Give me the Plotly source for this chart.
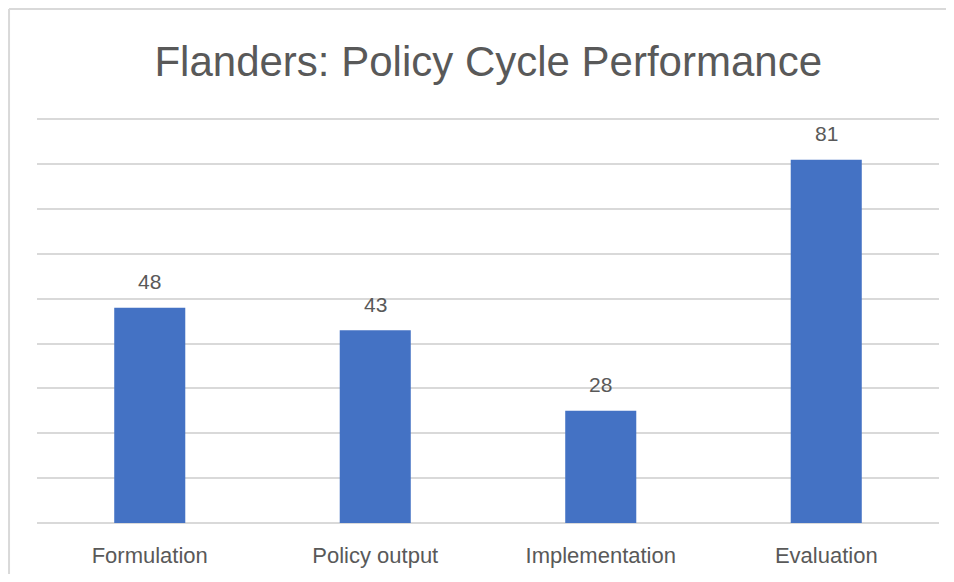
import plotly.graph_objects as go

# ─── Data ────────────────────────────────────────────────────────────────────
categories = ["Formulation", "Policy output", "Implementation", "Evaluation"]
bar_values = [48, 43, 25, 81]
bar_labels = ["48", "43", "28", "81"]

TEXT_GREY = "#595959"
BAR_BLUE = "#4472c4"
GRID_GREY = "#d9d9d9"
FONT = "Liberation Sans, Arial, sans-serif"

# page body has an 8px margin on every side; keep the figure inside the window
W, H = 938, 566

fig = go.Figure(go.Bar(
    x=categories, y=bar_values,
    marker=dict(color=BAR_BLUE, line=dict(width=0)),
    width=0.315,
    hoverinfo="x+y",
))

# data labels sit a fixed distance above each bar top
for cat, val, lab in zip(categories, bar_values, bar_labels):
    fig.add_annotation(
        x=cat, y=val, text=lab, showarrow=False,
        yshift=26, font=dict(family=FONT, size=21, color=TEXT_GREY),
    )

# chart frame: only the top and left edges fall inside the picture
frame = dict(color="#d9d9d9", width=2)
fig.add_shape(type="line", xref="paper", yref="paper",
              x0=-0.031, x1=1.2, y0=1.269, y1=1.269, line=frame, layer="below")
fig.add_shape(type="line", xref="paper", yref="paper",
              x0=-0.031, x1=-0.031, y0=-0.4, y1=1.269, line=frame, layer="below")

fig.update_layout(
    width=W, height=H,
    paper_bgcolor="white", plot_bgcolor="white",
    margin=dict(l=29, r=7, t=110, b=51),
    font=dict(family=FONT, color=TEXT_GREY),
    title=dict(
        text="Flanders: Policy Cycle Performance",
        x=0.512, xanchor="center", y=0.906, yanchor="middle",
        font=dict(family=FONT, size=42, color=TEXT_GREY),
    ),
    showlegend=False,
)
fig.update_xaxes(
    showgrid=False, showline=False, ticks="",
    ticklabelstandoff=17,
    tickfont=dict(family=FONT, size=22, color=TEXT_GREY),
)
fig.update_yaxes(
    range=[0, 90.3], tickvals=list(range(0, 100, 10)), showticklabels=False,
    showgrid=True, gridcolor=GRID_GREY, gridwidth=1.5,
    zeroline=True, zerolinecolor=GRID_GREY, zerolinewidth=1.5,
)

fig.write_html("out.html")
